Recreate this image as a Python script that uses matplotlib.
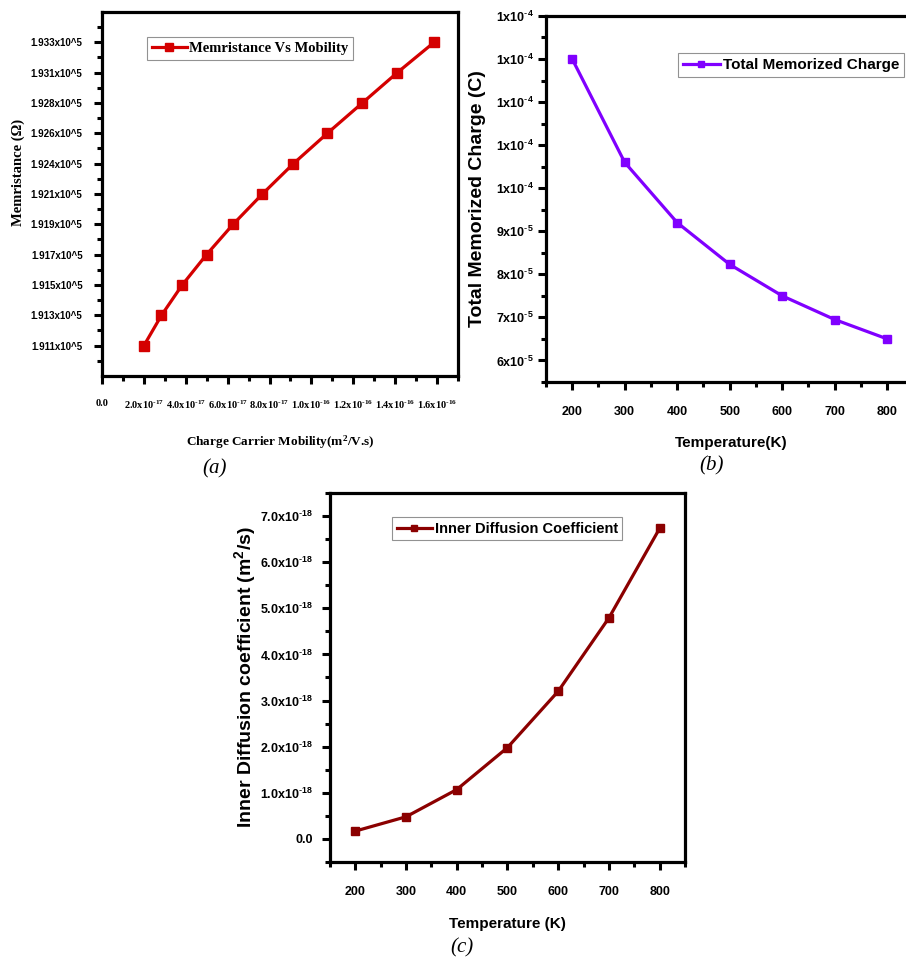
import matplotlib
matplotlib.use("Agg")
import matplotlib.pyplot as plt
from matplotlib.ticker import FixedLocator, MultipleLocator, AutoMinorLocator

plt.rcParams['mathtext.default'] = 'regular'
plt.rcParams['axes.unicode_minus'] = False

# ---- data (a) ----
mobility = [2.0e-17, 2.84e-17, 3.83e-17, 4.99e-17, 6.26e-17, 7.66e-17,
            9.14e-17, 1.076e-16, 1.243e-16, 1.41e-16, 1.586e-16]
memristance = [1.9110, 1.9132, 1.9154, 1.9176, 1.9198, 1.9220,
               1.9242, 1.9264, 1.9286, 1.9308, 1.9330]          # x10^5 ohm
mem_ticklabels = ['1.911x10^5', '1.913x10^5', '1.915x10^5', '1.917x10^5',
                  '1.919x10^5', '1.921x10^5', '1.924x10^5', '1.926x10^5',
                  '1.928x10^5', '1.931x10^5', '1.933x10^5']
mob_ticks = [0, 2e-17, 4e-17, 6e-17, 8e-17, 1.0e-16, 1.2e-16, 1.4e-16, 1.6e-16]
mob_ticklabels = ['0.0', '2.0x10^-17', '4.0x10^-17', '6.0x10^-17', '8.0x10^-17',
                  '1.0x10^-16', '1.2x10^-16', '1.4x10^-16', '1.6x10^-16']

# ---- data (b) ----
temp = [200, 300, 400, 500, 600, 700, 800]
charge = [13.0e-5, 10.6e-5, 9.2e-5, 8.23e-5, 7.5e-5, 6.95e-5, 6.5e-5]
charge_ticks = [6e-5, 7e-5, 8e-5, 9e-5, 10e-5, 11e-5, 12e-5, 13e-5, 14e-5]
charge_ticklabels = ['6x10^-5', '7x10^-5', '8x10^-5', '9x10^-5', '1x10^-4',
                     '1x10^-4', '1x10^-4', '1x10^-4', '1x10^-4']

# ---- data (c) ----
diffusion = [0.17e-18, 0.48e-18, 1.07e-18, 1.98e-18, 3.2e-18, 4.79e-18, 6.73e-18]
diff_ticks = [0, 1e-18, 2e-18, 3e-18, 4e-18, 5e-18, 6e-18, 7e-18]
diff_ticklabels = ['0.0', '1.0x10^-18', '2.0x10^-18', '3.0x10^-18',
                   '4.0x10^-18', '5.0x10^-18', '6.0x10^-18', '7.0x10^-18']

SERIF = ['Liberation Serif', 'DejaVu Serif']
SANS = ['Liberation Sans Narrow', 'Liberation Sans', 'DejaVu Sans']
SANS_W = ['Liberation Sans', 'DejaVu Sans']


def sup(s):
    # "2.0x10^-17" -> mantissa with a raised exponent (plain hyphen)
    base, exp = s.split('^')
    exp = exp.replace('-', r'\text{-}')
    return base + '$^{' + exp + '}$'


fig = plt.figure(figsize=(9.06, 9.67), dpi=100)


def style_axes(ax, xpad, ypad):
    for sp in ax.spines.values():
        sp.set_linewidth(2.3)
    ax.tick_params(which='major', direction='out', length=5.5, width=2.2)
    ax.tick_params(which='minor', direction='out', length=3.5, width=2.2)
    ax.tick_params(axis='x', which='major', pad=xpad)
    ax.tick_params(axis='y', which='major', pad=ypad)
    ax.tick_params(top=False, right=False)


def boxed_legend(ax, anchor, prop):
    leg = ax.legend(loc='upper left', bbox_to_anchor=anchor, borderaxespad=0,
                    prop=prop, fancybox=False, handlelength=2.4,
                    handletextpad=0.2, borderpad=0.32, markerscale=0.8)
    leg.get_frame().set_edgecolor('#777777')
    leg.get_frame().set_linewidth(0.8)


# (a)
axa = fig.add_axes([0.1126, 0.6112, 0.3929, 0.3764])
axa.plot(mobility, memristance, color='#d40000', lw=2.3, marker='s', ms=6.5,
         label='Memristance Vs Mobility')
axa.set_xlim(0, 1.7e-16)
step = memristance[1] - memristance[0]
axa.set_ylim(memristance[0] - step, memristance[-1] + step)
axa.yaxis.set_major_locator(FixedLocator(memristance))
axa.set_yticklabels(mem_ticklabels, family=SANS, weight='bold', fontsize=7)
axa.yaxis.set_minor_locator(FixedLocator(
    [memristance[0] - step / 2] + [m + step / 2 for m in memristance]))
axa.xaxis.set_major_locator(FixedLocator(mob_ticks))
axa.set_xticklabels([mob_ticklabels[0]] + [sup(s) for s in mob_ticklabels[1:]],
                    family=SERIF, weight='bold', fontsize=7.5)
axa.xaxis.set_minor_locator(MultipleLocator(1e-17))
style_axes(axa, 11, 8.5)
axa.set_xlabel(r'Charge Carrier Mobility(m$^{2}$/V.s)', family=SERIF,
               weight='bold', fontsize=9.5)
axa.xaxis.set_label_coords(0.5, -0.159)
axa.set_ylabel('Memristance (Ω)', family=SERIF, weight='bold', fontsize=10.5)
axa.yaxis.set_label_coords(-0.216, 0.56)
boxed_legend(axa, (0.126, 0.93), {'family': SERIF, 'weight': 'bold', 'size': 10.5})

# (b)
axb = fig.add_axes([0.6026, 0.6050, 0.4056, 0.3785])
axb.plot(temp, charge, color='#8000ff', lw=2.3, marker='s', ms=5.5,
         label='Total Memorized Charge')
axb.set_xlim(150, 850)
axb.set_ylim(5.5e-5, 14e-5)
axb.set_xticks(temp)
axb.set_xticklabels([str(t) for t in temp], family=SANS, weight='bold', fontsize=9)
axb.xaxis.set_minor_locator(MultipleLocator(50))
axb.yaxis.set_major_locator(FixedLocator(charge_ticks))
axb.set_yticklabels([sup(s) for s in charge_ticklabels], family=SANS,
                    weight='bold', fontsize=9)
axb.yaxis.set_minor_locator(AutoMinorLocator(2))
style_axes(axb, 12, 3.5)
axb.set_xlabel('Temperature(K)', family=SANS, weight='bold', fontsize=11)
axb.xaxis.set_label_coords(0.505, -0.1475)
axb.set_ylabel('Total Memorized Charge (C)', family=SANS_W, weight='bold', fontsize=14)
axb.yaxis.set_label_coords(-0.163, 0.5)
boxed_legend(axb, (0.36, 0.898), {'family': SANS, 'weight': 'bold', 'size': 11})

# (c)
axc = fig.add_axes([0.3642, 0.1086, 0.3918, 0.3816])
axc.plot(temp, diffusion, color='#8b0000', lw=2.3, marker='s', ms=5.5,
         label='Inner Diffusion Coefficient')
axc.set_xlim(150, 850)
axc.set_ylim(-0.5e-18, 7.5e-18)
axc.set_xticks(temp)
axc.set_xticklabels([str(t) for t in temp], family=SANS, weight='bold', fontsize=9)
axc.xaxis.set_minor_locator(MultipleLocator(50))
axc.yaxis.set_major_locator(FixedLocator(diff_ticks))
axc.set_yticklabels([diff_ticklabels[0]] + [sup(s) for s in diff_ticklabels[1:]],
                    family=SANS, weight='bold', fontsize=9)
axc.yaxis.set_minor_locator(MultipleLocator(0.5e-18))
style_axes(axc, 11.5, 7)
axc.set_xlabel('Temperature (K)', family=SANS, weight='bold', fontsize=11)
axc.xaxis.set_label_coords(0.5, -0.149)
axc.set_ylabel(r'Inner Diffusion coefficient (m$^{2}$/s)', family=SANS_W,
               weight='bold', fontsize=14)
axc.yaxis.set_label_coords(-0.203, 0.5)
boxed_legend(axc, (0.175, 0.935), {'family': SANS, 'weight': 'bold', 'size': 10.5})

# panel captions
cap = dict(family=SERIF, style='italic', fontsize=15, ha='center', va='center')
fig.text(215 / 906, 1 - 469 / 967, '(a)', **cap)
fig.text(712 / 906, 1 - 466 / 967, '(b)', **cap)
fig.text(462 / 906, 1 - 948 / 967, '(c)', **cap)

fig.savefig('out.png', dpi=100)
